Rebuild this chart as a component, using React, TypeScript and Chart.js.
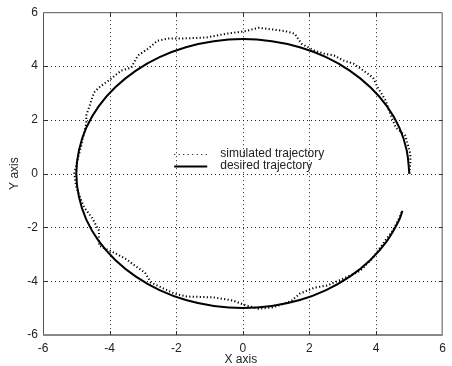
import React, { useEffect, useRef } from "react";
import { Chart, registerables } from "chart.js";

Chart.register(...registerables);

const xTicks = [-6, -4, -2, 0, 2, 4, 6];
const yTicks = [-6, -4, -2, 0, 2, 4, 6];
const xTitle = "X axis";
const yTitle = "Y axis";
const simLabel = "simulated trajectory";
const desLabel = "desired trajectory";

const desiredX = [5.0, 4.92, 4.7, 4.33, 3.83, 3.21, 2.5, 1.71, 0.87, 0.0, -0.87, -1.71, -2.5, -3.21, -3.83, -4.33, -4.7, -4.92, -5.0, -4.92, -4.7, -4.33, -3.83, -3.21, -2.5, -1.71, -0.87, 0.0, 0.87, 1.71, 2.5, 3.21, 3.83, 4.33, 4.7, 4.79];
const desiredY = [0.0, 0.87, 1.71, 2.5, 3.21, 3.83, 4.33, 4.7, 4.92, 5.0, 4.92, 4.7, 4.33, 3.83, 3.21, 2.5, 1.71, 0.87, 0.0, -0.87, -1.71, -2.5, -3.21, -3.83, -4.33, -4.7, -4.92, -5.0, -4.92, -4.7, -4.33, -3.83, -3.21, -2.5, -1.71, -1.38];

const simX = [5.0, 5.03, 5.03, 4.95, 4.88, 4.59, 4.4, 4.29, 4.05, 3.91, 3.62, 3.32, 3.03, 2.74, 2.44, 2.15, 1.76, 1.56, 1.26, 0.47, 0.09, -0.5, -1.09, -1.88, -2.26, -2.56, -2.85, -3.15, -3.35, -3.65, -4.03, -4.32, -4.47, -4.62, -4.7, -4.7, -4.82, -4.85, -4.97, -5.06, -5.0, -4.85, -4.76, -4.53, -4.32, -4.32, -3.82, -3.53, -3.24, -2.94, -2.76, -2.06, -1.68, -0.88, -0.29, 0.09, 0.47, 0.88, 1.26, 1.47, 1.71, 2.15, 2.53, 3.03, 3.53, 3.91, 4.21, 4.5, 4.7, 4.79];
const simY = [0.0, 0.4, 0.74, 1.1, 1.41, 1.71, 2.3, 2.72, 3.2, 3.57, 3.83, 4.09, 4.2, 4.39, 4.46, 4.57, 4.83, 5.2, 5.3, 5.42, 5.3, 5.2, 5.06, 5.02, 5.02, 4.94, 4.64, 4.39, 3.94, 3.83, 3.46, 3.2, 3.01, 2.45, 2.16, 1.86, 1.23, 1.04, 0.48, 0.0, -0.52, -1.0, -1.26, -1.64, -2.12, -2.68, -2.97, -3.16, -3.42, -3.68, -4.05, -4.46, -4.57, -4.6, -4.72, -4.9, -5.02, -4.98, -4.83, -4.72, -4.46, -4.24, -4.16, -3.9, -3.61, -3.12, -2.6, -2.12, -1.64, -1.38];

const FONT = "Liberation Sans, Arial, sans-serif";

const framePlugin = {
  id: "matlabFrame",
  beforeDatasetsDraw(chart: any) {
    const { ctx, chartArea: a, scales } = chart;
    ctx.save();
    ctx.strokeStyle = "#222";
    ctx.lineWidth = 1;
    ctx.setLineDash([1, 3]);
    xTicks.slice(1, -1).forEach((v) => {
      const px = Math.round(scales.x.getPixelForValue(v)) + 0.5;
      ctx.beginPath();
      ctx.moveTo(px, a.top);
      ctx.lineTo(px, a.bottom);
      ctx.stroke();
    });
    yTicks.slice(1, -1).forEach((v) => {
      const py = Math.round(scales.y.getPixelForValue(v)) + 0.5;
      ctx.beginPath();
      ctx.moveTo(a.left, py);
      ctx.lineTo(a.right, py);
      ctx.stroke();
    });
    ctx.restore();
  },
  afterDatasetsDraw(chart: any) {
    const { ctx, chartArea: a, scales } = chart;
    ctx.save();
    ctx.setLineDash([]);
    ctx.strokeStyle = "#555";
    ctx.lineWidth = 1;
    ctx.beginPath();
    ctx.moveTo(a.left + 0.5, a.bottom);
    ctx.lineTo(a.left + 0.5, a.top + 0.5);
    ctx.lineTo(a.right - 0.5, a.top + 0.5);
    ctx.lineTo(a.right - 0.5, a.bottom);
    ctx.stroke();
    ctx.strokeStyle = "#888";
    ctx.lineWidth = 2;
    ctx.beginPath();
    ctx.moveTo(a.left, a.bottom);
    ctx.lineTo(a.right, a.bottom);
    ctx.stroke();
    ctx.strokeStyle = "#333";
    ctx.lineWidth = 1;
    const tl = 4;
    xTicks.slice(1, -1).forEach((v) => {
      const px = Math.round(scales.x.getPixelForValue(v)) + 0.5;
      ctx.beginPath();
      ctx.moveTo(px, a.top);
      ctx.lineTo(px, a.top + tl);
      ctx.moveTo(px, a.bottom);
      ctx.lineTo(px, a.bottom - tl);
      ctx.stroke();
    });
    yTicks.slice(1, -1).forEach((v) => {
      const py = Math.round(scales.y.getPixelForValue(v)) + 0.5;
      ctx.beginPath();
      ctx.moveTo(a.left, py);
      ctx.lineTo(a.left + tl, py);
      ctx.moveTo(a.right, py);
      ctx.lineTo(a.right - tl, py);
      ctx.stroke();
    });
    const ds = chart.data.datasets;
    const lx0 = scales.x.getPixelForValue(-2) - 2;
    const lx1 = lx0 + 33;
    const tx = lx1 + 13;
    const rows = [154, 166];
    ds.forEach((d: any, i: number) => {
      const y = rows[i] + 0.5;
      ctx.strokeStyle = d.borderColor;
      ctx.lineWidth = i === 0 ? 1 : d.borderWidth;
      ctx.setLineDash(i === 0 ? [1, 3.5] : []);
      ctx.beginPath();
      ctx.moveTo(lx0, y);
      ctx.lineTo(lx1, y);
      ctx.stroke();
      ctx.setLineDash([]);
      ctx.fillStyle = "#222";
      ctx.font = "12px " + FONT;
      ctx.textAlign = "left";
      ctx.textBaseline = "middle";
      ctx.fillText(d.label, tx, rows[i]);
    });
    ctx.fillStyle = "#222";
    ctx.font = "12px " + FONT;
    ctx.textAlign = "center";
    ctx.textBaseline = "middle";
    ctx.fillText(xTitle, (a.left + a.right) / 2 - 2, 360);
    ctx.save();
    ctx.translate(15, (a.top + a.bottom) / 2);
    ctx.rotate(-Math.PI / 2);
    ctx.fillText(yTitle, 0, 0);
    ctx.restore();
    ctx.restore();
  },
};

export default function App() {
  const ref = useRef<HTMLCanvasElement>(null);
  useEffect(() => {
    if (!ref.current) return;
    const chart = new Chart(ref.current, {
      type: "scatter",
      data: {
        datasets: [
          {
            label: simLabel,
            data: simX.map((x, i) => ({ x, y: simY[i] })),
            showLine: true,
            borderColor: "#000",
            borderWidth: 2,
            borderDash: [1.2, 2.3],
            pointRadius: 0,
            tension: 0,
            fill: false,
          },
          {
            label: desLabel,
            data: desiredX.map((x, i) => ({ x, y: desiredY[i] })),
            showLine: true,
            borderColor: "#000",
            borderWidth: 2,
            pointRadius: 0,
            tension: 0.4,
            fill: false,
          },
        ],
      },
      options: {
        animation: false,
        responsive: true,
        maintainAspectRatio: false,
        layout: { padding: { left: 0, top: 12, right: 1, bottom: 0 } },
        plugins: { legend: { display: false }, tooltip: { enabled: false } },
        scales: {
          x: {
            type: "linear",
            min: -6,
            max: 6,
            afterBuildTicks: (s: any) => {
              s.ticks = xTicks.map((v) => ({ value: v }));
            },
            afterFit: (s: any) => {
              s.height = 31;
            },
            grid: { display: false, drawTicks: false },
            border: { display: false },
            ticks: { padding: 6, color: "#222", font: { size: 12, family: FONT }, maxRotation: 0 },
          },
          y: {
            type: "linear",
            min: -6,
            max: 6,
            afterBuildTicks: (s: any) => {
              s.ticks = yTicks.map((v) => ({ value: v }));
            },
            afterFit: (s: any) => {
              s.width = 43;
            },
            grid: { display: false, drawTicks: false },
            border: { display: false },
            ticks: { padding: 5, color: "#222", font: { size: 12, family: FONT } },
          },
        },
      },
      plugins: [framePlugin],
    });
    return () => chart.destroy();
  }, []);
  return (
    <div style={{ position: "absolute", left: 0, top: 0, width: 452, height: 366, background: "#fff" }}>
      <canvas ref={ref} />
    </div>
  );
}
